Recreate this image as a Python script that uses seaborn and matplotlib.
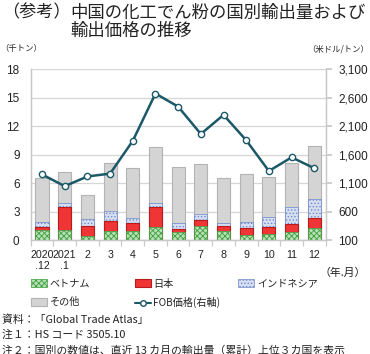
import numpy as np
import matplotlib
matplotlib.use("Agg")
import matplotlib.pyplot as plt
import matplotlib.ticker as mticker
from matplotlib.patches import Patch
from matplotlib.lines import Line2D
import seaborn as sns
import pandas as pd

sns.set_theme(style="white")
plt.rcParams['font.family'] = ['Liberation Sans', 'Noto Sans CJK JP', 'DejaVu Sans']
plt.rcParams['hatch.linewidth'] = 0.6

# data (thousand tons, USD/ton)
months = ["2020\n.12", "2021\n.1", "2", "3", "4", "5", "6", "7", "8", "9", "10", "11", "12"]
vietnam = [1.1, 1.1, 0.45, 0.9, 1.0, 1.4, 0.8, 1.45, 0.95, 0.55, 0.65, 0.8, 1.25]
japan = [0.25, 2.35, 1.05, 1.15, 0.75, 2.1, 0.4, 0.7, 0.5, 0.7, 0.75, 0.9, 1.05]
indonesia = [0.55, 0.45, 0.7, 1.05, 0.55, 0.35, 0.55, 0.55, 0.3, 0.6, 1.05, 1.75, 2.0]
other = [4.6, 3.3, 2.5, 5.0, 5.3, 5.9, 5.95, 5.35, 4.8, 5.1, 4.2, 4.7, 5.6]
fob_price = [1250, 1045, 1215, 1265, 1840, 2670, 2440, 1960, 2295, 1850, 1310, 1550, 1360]

df = pd.DataFrame({"month": months, "vietnam": vietnam, "japan": japan,
                   "indonesia": indonesia, "other": other})
df["c1"] = df["vietnam"]
df["c2"] = df["c1"] + df["japan"]
df["c3"] = df["c2"] + df["indonesia"]
df["c4"] = df["c3"] + df["other"]

c_vn_face, c_vn_edge = "#b6e0b6", "#3f9f3f"
c_jp_face, c_jp_edge = "#ef3535", "#b71c1c"
c_id_face, c_id_edge = "#d6def2", "#6f88c8"
c_ot_face, c_ot_edge = "#d4d4d4", "#b3b3b3"
c_line = "#1b5868"
txt = "#222222"
jp = ['Noto Sans CJK JP', 'DejaVu Sans']

fig = plt.figure(figsize=(3.70, 3.54), dpi=100)
ax = fig.add_axes([0.083, 0.322, 0.797, 0.483])

bw = 0.58
sns.barplot(data=df, x="month", y="c4", color=c_ot_face, edgecolor=c_ot_edge, linewidth=0.8,
            saturation=1, width=bw, errorbar=None, ax=ax)
sns.barplot(data=df, x="month", y="c3", color=c_id_face, edgecolor=c_id_edge, linewidth=0.5,
            hatch=".....", saturation=1, width=bw, errorbar=None, ax=ax)
sns.barplot(data=df, x="month", y="c2", color=c_jp_face, edgecolor=c_jp_edge, linewidth=0.8,
            saturation=1, width=bw, errorbar=None, ax=ax)
sns.barplot(data=df, x="month", y="c1", color=c_vn_face, edgecolor=c_vn_edge, linewidth=0.5,
            hatch="xxxxxx", saturation=1, width=bw, errorbar=None, ax=ax)

ax.set_ylim(0, 18)
ax.set_yticks(np.arange(0, 19, 3))
ax.set_axisbelow(True)
ax.yaxis.grid(True, color="#d6d6d6", lw=0.9)
ax.set_xlabel("")
ax.set_ylabel("")

ax2 = ax.twinx()
sns.lineplot(x=np.arange(len(months)), y=fob_price, ax=ax2, color=c_line, lw=1.8,
             marker="o", markersize=4.5, markerfacecolor="white",
             markeredgecolor=c_line, markeredgewidth=1.0)
ax2.set_ylim(100, 3100)
ax2.set_yticks(np.arange(100, 3101, 500))
ax2.yaxis.set_major_formatter(mticker.StrMethodFormatter("{x:,.0f}"))
ax2.set_xlabel("")
ax2.set_ylabel("")
ax.set_xlim(-0.5, len(months) - 0.5)

for a in (ax, ax2):
    for s in a.spines.values():
        s.set_color("#c8c8c8")
        s.set_linewidth(0.9)
    a.spines["top"].set_visible(False)

ax.tick_params(axis="y", length=0, labelsize=8.5, labelcolor=txt, pad=8)
ax.tick_params(axis="x", which="major", length=0, labelsize=7.7, labelcolor=txt, pad=7)
ax.xaxis.set_minor_locator(mticker.FixedLocator(np.arange(-0.5, len(months), 1)))
ax.tick_params(axis="x", which="minor", bottom=True, length=4, color="#c8c8c8", width=0.9)
ax2.tick_params(axis="y", right=True, length=4, color="#c8c8c8", labelsize=8.5,
                labelcolor=txt, pad=5)

# titles and units
fig.text(0.005, 0.965, "（参考）", fontsize=12.3, color=txt, va="center", ha="left", family=jp)
fig.text(0.19, 0.965, "中国の化工でん粉の国別輸出量および", fontsize=12.5, color=txt,
         va="center", ha="left", family=jp)
fig.text(0.19, 0.912, "輸出価格の推移", fontsize=12.5, color=txt, va="center", ha="left",
         family=jp)
fig.text(0.0, 0.862, "（千トン）", fontsize=6, color=txt, va="center", ha="left", family=jp)
fig.text(0.997, 0.862, "（米ドル/トン）", fontsize=6, color=txt, va="center", ha="right",
         family=jp)
fig.text(0.99, 0.23, "（年.月）", fontsize=7.8, color=txt, va="center", ha="right", family=jp)

# legend, three columns placed where the reference has them
h_vn = Patch(facecolor=c_vn_face, edgecolor=c_vn_edge, hatch="xxxxxx", lw=0.5, label="ベトナム")
h_jp = Patch(facecolor=c_jp_face, edgecolor=c_jp_edge, lw=0.8, label="日本")
h_id = Patch(facecolor=c_id_face, edgecolor=c_id_edge, hatch=".....", lw=0.5, label="インドネシア")
h_ot = Patch(facecolor=c_ot_face, edgecolor=c_ot_edge, lw=0.8, label="その他")
h_fob = Line2D([], [], color=c_line, lw=1.5, marker="o", markersize=4,
               markerfacecolor="white", markeredgecolor=c_line, label="FOB価格(右軸)")
for hs, x0 in [([h_vn, h_ot], 0.083), ([h_jp, h_fob], 0.364), ([h_id], 0.643)]:
    fig.legend(handles=hs, labels=[h.get_label() for h in hs], loc="upper left",
               bbox_to_anchor=(x0, 0.213), frameon=False, prop={"family": jp, "size": 7.3},
               handlelength=1.6, handleheight=0.75, handletextpad=0.25,
               labelspacing=0.85, borderpad=0.0, borderaxespad=0.0, labelcolor=txt)

notes = ["資料：「Global Trade Atlas」",
         "注１：HS コード 3505.10",
         "注２：国別の数値は、直近 13 カ月の輸出量（累計）上位３カ国を表示"]
for i, n in enumerate(notes):
    fig.text(0.005, 0.097 - i * 0.043, n, fontsize=7.8, color=txt, va="center", ha="left",
             family=jp)

fig.savefig("out.png", dpi=100)
